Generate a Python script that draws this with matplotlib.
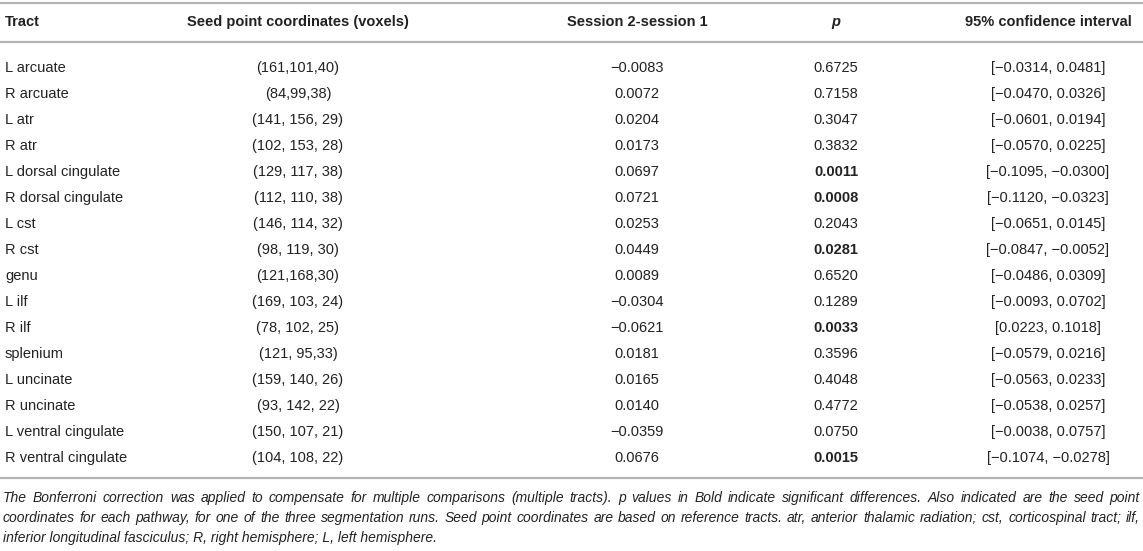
import matplotlib
matplotlib.use("Agg")
import matplotlib.pyplot as plt

# table contents
tracts = ["L arcuate", "R arcuate", "L atr", "R atr", "L dorsal cingulate", "R dorsal cingulate",
          "L cst", "R cst", "genu", "L ilf", "R ilf", "splenium", "L uncinate", "R uncinate",
          "L ventral cingulate", "R ventral cingulate"]
seeds = ["(161,101,40)", "(84,99,38)", "(141, 156, 29)", "(102, 153, 28)", "(129, 117, 38)",
         "(112, 110, 38)", "(146, 114, 32)", "(98, 119, 30)", "(121,168,30)", "(169, 103, 24)",
         "(78, 102, 25)", "(121, 95,33)", "(159, 140, 26)", "(93, 142, 22)", "(150, 107, 21)",
         "(104, 108, 22)"]
diffs = [-0.0083, 0.0072, 0.0204, 0.0173, 0.0697, 0.0721, 0.0253, 0.0449, 0.0089, -0.0304,
         -0.0621, 0.0181, 0.0165, 0.0140, -0.0359, 0.0676]
pvals = [0.6725, 0.7158, 0.3047, 0.3832, 0.0011, 0.0008, 0.2043, 0.0281, 0.6520, 0.1289,
         0.0033, 0.3596, 0.4048, 0.4772, 0.0750, 0.0015]
ci_low = [-0.0314, -0.0470, -0.0601, -0.0570, -0.1095, -0.1120, -0.0651, -0.0847, -0.0486,
          -0.0093, 0.0223, -0.0579, -0.0563, -0.0538, -0.0038, -0.1074]
ci_high = [0.0481, 0.0326, 0.0194, 0.0225, -0.0300, -0.0323, 0.0145, -0.0052, 0.0309,
           0.0702, 0.1018, 0.0216, 0.0233, 0.0257, 0.0757, -0.0278]
headers = ["Tract", "Seed point coordinates (voxels)", "Session 2-session 1", "p",
           "95% confidence interval"]
footnote = [
    "The Bonferroni correction was applied to compensate for multiple comparisons (multiple tracts). "
    "p values in Bold indicate significant differences. Also indicated are the seed point",
    "coordinates for each pathway, for one of the three segmentation runs. Seed point coordinates are "
    "based on reference tracts. atr, anterior thalamic radiation; cst, corticospinal tract; ilf,",
    "inferior longitudinal fasciculus; R, right hemisphere; L, left hemisphere.",
]


def fmt(v):
    return f"{v:.4f}".replace("-", "\u2212")


body_font = ["Liberation Sans", "DejaVu Sans"]
txt_color = "#222222"
rule_color = "#b4b4b4"
fs = 10.5

fig = plt.figure(figsize=(11.43, 5.51), dpi=100)
ax = fig.add_axes([0, 0, 1, 1])
ax.set_xlim(0, 1143)
ax.set_ylim(551, 0)
ax.axis("off")

# column anchors (x) and alignment
col_x = [5, 298, 637, 836, 1048]
col_ha = ["left", "center", "center", "center", "center"]

# rules
ax.hlines([3, 42, 478], 0, 1143, colors=rule_color, linewidth=1.6)

# header row
for i, h in enumerate(headers):
    ax.text(col_x[i], 22, h, ha=col_ha[i], va="center", fontsize=fs, fontweight="bold",
            style="italic" if h == "p" else "normal", color=txt_color, family=body_font)

# body rows
row_y0, row_h = 68, 26
for r in range(len(tracts)):
    y = row_y0 + r * row_h
    cells = [tracts[r], seeds[r], fmt(diffs[r]), fmt(pvals[r]),
             f"[{fmt(ci_low[r])}, {fmt(ci_high[r])}]"]
    for i, c in enumerate(cells):
        bold = (i == 3 and pvals[r] < 0.05)
        ax.text(col_x[i], y, c, ha=col_ha[i], va="center", fontsize=fs,
                fontweight="bold" if bold else "normal", color=txt_color, family=body_font)

# footnote, justified to the full width except the last line
renderer = fig.canvas.get_renderer()
left, right = 3, 1140
for k, line in enumerate(footnote):
    y = 498 + k * 20
    if k == len(footnote) - 1:
        ax.text(left, y, line, ha="left", va="center", fontsize=10, style="italic",
                color=txt_color, family=body_font)
        continue
    words = line.split(" ")
    items = [ax.text(0, y, w, ha="left", va="center", fontsize=10, style="italic",
                     color=txt_color, family=body_font) for w in words]
    widths = [t.get_window_extent(renderer).width for t in items]
    gap = (right - left - sum(widths)) / (len(words) - 1)
    x = left
    for t, w in zip(items, widths):
        t.set_x(x)
        x += w + gap

fig.savefig("out.png", dpi=100)
